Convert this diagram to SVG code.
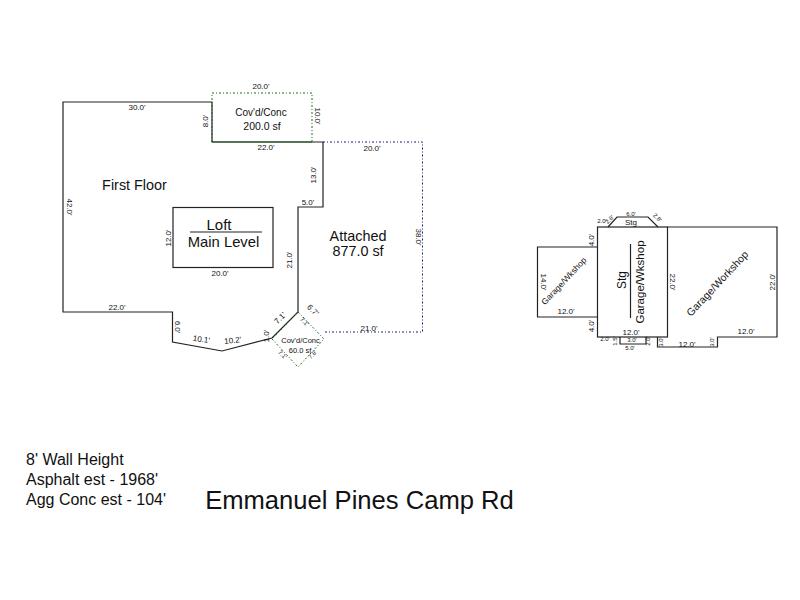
<svg xmlns="http://www.w3.org/2000/svg" width="800" height="600" viewBox="0 0 800 600">
<style>
text{font-family:"Liberation Sans",Arial,sans-serif;fill:#111;text-anchor:middle}
.w{fill:none;stroke:#222;stroke-width:1.2}
.g{fill:none;stroke:#1c6b1c;stroke-width:1;stroke-dasharray:2 2 1 2}
.b{fill:none;stroke:#1a1a80;stroke-width:1;stroke-dasharray:2 2 1 2}
.d{font-size:8px}
.t{font-size:6px}
.l{font-size:14.400px}
.n{font-size:16px;text-anchor:start}
</style>
<rect width="800" height="600" fill="#fff"/>
<g id="connectors">
<path class="w" d="M190 232H262"/>
<path class="w" d="M630.500 244V318"/>
</g>
<g id="first-floor">
<path class="w" d="M63 102H212V142H323V207H298V312L272 338L222 351L172.500 342V312H63Z"/>
<text class="l" x="134.500" y="190">First Floor</text>
<text class="d" x="137" y="110">30.0'</text>
<text class="d" transform="translate(208,121) rotate(-90)">8.0'</text>
<text class="d" x="266" y="150">22.0'</text>
<text class="d" transform="translate(316,175) rotate(-90)">13.0'</text>
<text class="d" x="308" y="205">5.0'</text>
<text class="d" transform="translate(292,260) rotate(-90)">21.0'</text>
<text class="d" transform="translate(67,207) rotate(90)">42.0'</text>
<text class="d" x="117" y="310">22.0'</text>
<text class="d" transform="translate(175,327) rotate(90)">6.0'</text>
<text class="d" transform="translate(201,342) rotate(8)">10.1'</text>
<text class="d" transform="translate(233,343) rotate(-6)">10.2'</text>
<text class="d" transform="translate(269,336) rotate(-90)">1.0'</text>
<text class="d" transform="translate(282,320) rotate(-45)">7.1'</text>
</g>
<g id="covd-conc-north">
<path class="g" d="M212 142V93H312V142"/>
<path fill="none" stroke="#1c5a1c" stroke-width="1.200" d="M212 142H312"/>
<text x="261" y="116" font-size="10">Cov'd/Conc</text>
<text x="262" y="130" font-size="10.500">200.0 sf</text>
<text class="d" x="261" y="89">20.0'</text>
<text class="d" transform="translate(315,116) rotate(90)">10.0'</text>
</g>
<g id="attached">
<path class="b" d="M323 142H422.500V332H323"/>
<text x="358" y="241" font-size="14.400">Attached</text>
<text x="358" y="256" font-size="14.400">877.0 sf</text>
<text class="d" x="372" y="151">20.0'</text>
<text class="d" transform="translate(416,237) rotate(90)">38.0'</text>
<text class="d" x="369" y="331">21.0'</text>
<text class="d" transform="translate(311,312) rotate(45)">6.7'</text>
</g>
<g id="loft">
<rect class="w" x="173" y="207.500" width="100" height="60"/>
<text x="219" y="230" font-size="15">Loft</text>
<text x="223.500" y="247" font-size="14.800">Main Level</text>
<text class="d" transform="translate(171,238) rotate(-90)">12.0'</text>
<text class="d" x="220" y="276">20.0'</text>
</g>
<g id="covd-conc-south">
<path class="g" d="M298 312L324 339L298 367L272 339Z"/>
<text x="300.500" y="343" font-size="7.500">Cov'd/Conc</text>
<text x="300" y="353" font-size="7.500">60.0 sf</text>
<text class="t" transform="translate(303,323) rotate(45)">7.1'</text>
<text class="t" transform="translate(281,356) rotate(45)">7.1'</text>
<text class="t" transform="translate(314,356) rotate(-45)">7.8'</text>
</g>
<g id="garage-workshop-west">
<path class="w" d="M597.500 247H537.500V317H597.500"/>
<text font-size="8.500" transform="translate(566,283) rotate(-47)">Garage/Wkshop</text>
<text class="d" transform="translate(541,282) rotate(90)">14.0'</text>
<text class="d" x="566" y="314">12.0'</text>
<text class="d" transform="translate(594,240) rotate(-90)">4.0'</text>
<text class="d" transform="translate(594,326) rotate(-90)">4.0'</text>
</g>
<g id="stg-garage-center">
<rect class="w" x="597.500" y="227" width="70" height="110"/>
<text x="626" y="280" font-size="12" transform="rotate(-90 626 280)">Stg</text>
<text x="644" y="282" font-size="11.500" transform="rotate(-90 644 282)">Garage/Wkshop</text>
<text class="d" x="631" y="335">12.0'</text>
</g>
<g id="stg-north">
<path class="w" d="M608 227L617 217H648L658 227"/>
<text class="d" x="631" y="225">Stg</text>
<text class="t" x="631" y="216">6.0'</text>
<text class="t" x="602" y="223">2.0'</text>
<text class="t" transform="translate(611,221) rotate(-45)">2.8'</text>
<text class="t" transform="translate(656,219) rotate(45)">2.8'</text>
</g>
<g id="stg-south">
<path class="w" d="M620 337V344H646V337"/>
<text class="t" x="605" y="341">2.0'</text>
<text class="t" transform="translate(617,341) rotate(-90)">1.5'</text>
<text class="t" x="632" y="342">3.0'</text>
<text class="t" x="630" y="350">5.0'</text>
<text class="t" transform="translate(650,341) rotate(-90)">2.0'</text>
</g>
<g id="garage-workshop-east">
<path class="w" d="M667.500 227H777V337H717.500V347H657.500V337"/>
<text x="720" y="286" font-size="10.500" transform="rotate(-47 720 286)">Garage/Workshop</text>
<text class="d" transform="translate(670,282) rotate(90)">22.0'</text>
<text class="d" transform="translate(775,282) rotate(-90)">22.0'</text>
<text class="d" x="746" y="334">12.0'</text>
<text class="d" x="687" y="347">12.0'</text>
<text class="t" transform="translate(663,342) rotate(-90)">3.0'</text>
<text class="t" transform="translate(714,342) rotate(-90)">3.0'</text>
</g>
<g id="notes">
<text class="n" x="26" y="465">8' Wall Height</text>
<text class="n" x="26" y="485">Asphalt est - 1968'</text>
<text class="n" x="26" y="505">Agg Conc est - 104'</text>
</g>
<g id="title">
<text x="359.500" y="509" font-size="25.600">Emmanuel Pines Camp Rd</text>
</g>
</svg>
